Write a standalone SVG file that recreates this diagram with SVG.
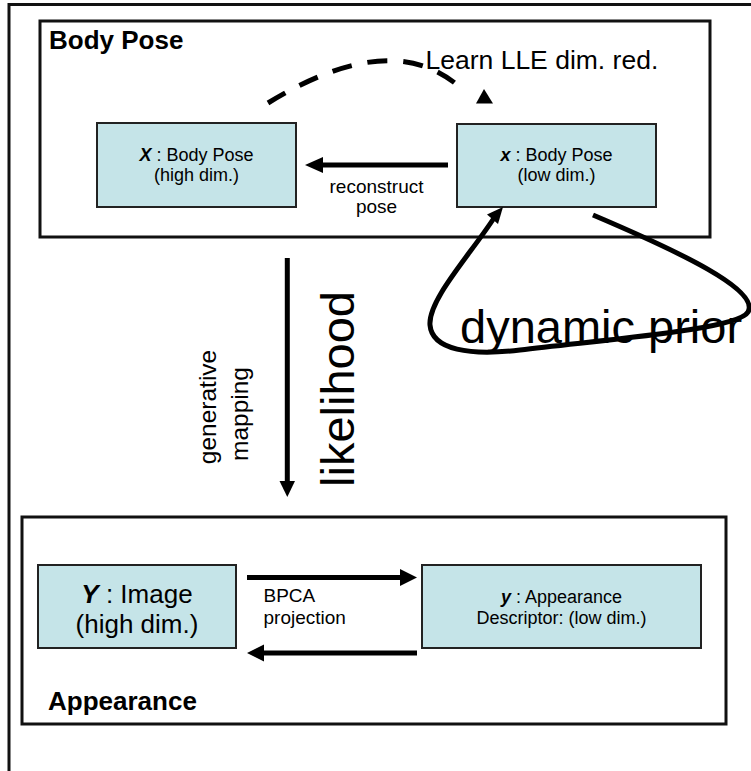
<svg xmlns="http://www.w3.org/2000/svg" width="751" height="771" viewBox="0 0 751 771">
<defs>
<style>
text{font-family:"Liberation Sans",Arial,sans-serif;fill:#000}
.frame{fill:none;stroke:#111;stroke-width:3}
.box{fill:#c5e4e8;stroke:#222;stroke-width:2}
.title{font-weight:bold;font-size:26px}
.small{font-size:18px;text-anchor:middle}
.big{font-size:26px;text-anchor:middle}
.lbl{font-size:19px}
.huge{font-size:47px}
.conn{fill:none;stroke:#000;stroke-width:5}
.head{fill:#000;stroke:none}
</style>
</defs>
<rect width="751" height="771" fill="#fff"/>
<rect id="outer" class="frame" x="9" y="4.5" width="800" height="800"/>
<g id="body-pose">
<rect class="frame" x="40" y="21" width="670" height="216"/>
<text class="title" x="49" y="49">Body Pose</text>
</g>
<g id="appearance">
<rect class="frame" x="22" y="517" width="704" height="207"/>
<text class="title" x="48" y="710">Appearance</text>
</g>
<g id="X-node">
<rect class="box" x="97" y="123" width="199" height="84"/>
<text class="small" x="196.5" y="161"><tspan font-weight="bold" font-style="italic">X</tspan> : Body Pose</text>
<text class="small" x="196.5" y="181">(high dim.)</text>
</g>
<g id="x-node">
<rect class="box" x="457" y="124" width="199" height="83"/>
<text class="small" x="556.5" y="161"><tspan font-weight="bold" font-style="italic">x</tspan> : Body Pose</text>
<text class="small" x="556.5" y="181">(low dim.)</text>
</g>
<g id="Y-node">
<rect class="box" x="38" y="565" width="198" height="83"/>
<text class="big" x="137" y="602.5"><tspan font-weight="bold" font-style="italic">Y</tspan> : Image</text>
<text class="big" x="137" y="633">(high dim.)</text>
</g>
<g id="y-node">
<rect class="box" x="422" y="565" width="279" height="83"/>
<text class="small" x="561.5" y="603"><tspan font-weight="bold" font-style="italic">y</tspan> : Appearance</text>
<text class="small" x="561.5" y="624">Descriptor: (low dim.)</text>
</g>
<g id="connectors">
<path class="conn" d="M268,103 Q394.5,25.5 463,90" stroke-dasharray="20 16"/>
<polygon class="head" points="484,89 476,103.5 493,103.5"/>
<text x="425.5" y="68.5" font-size="26.5px">Learn LLE dim. red.</text>
<line class="conn" x1="448" y1="165" x2="320" y2="165"/>
<polygon class="head" points="305,165 323,157 323,173"/>
<text class="lbl" x="376.5" y="193" text-anchor="middle">reconstruct</text>
<text class="lbl" x="376.5" y="213" text-anchor="middle">pose</text>
<path class="conn" d="M593,215 C680,252 760,290 748,312 C738,330 600,340 520,350 C470,356 432,350 430,325 C428,300 470,255 494,218" stroke-width="4.5"/>
<polygon class="head" points="503,207 498,224 487,214.5"/>
<text class="huge" x="460" y="343">dynamic prior</text>
<line class="conn" x1="287.3" y1="258" x2="287.3" y2="484" stroke-width="4.5"/>
<polygon class="head" points="287.3,497 279.5,481 295,481"/>
<text class="huge" transform="translate(354,487) rotate(-90)">likelihood</text>
<text font-size="24.5px" text-anchor="middle" transform="translate(216,407) rotate(-90)">generative</text>
<text font-size="24.5px" text-anchor="middle" transform="translate(248,414) rotate(-90)">mapping</text>
<line class="conn" x1="247" y1="577.5" x2="402" y2="577.5"/>
<polygon class="head" points="417,577.5 400,569 400,586"/>
<line class="conn" x1="417" y1="653" x2="262" y2="653"/>
<polygon class="head" points="247,653 264,644.5 264,661.5"/>
<text class="lbl" x="263.5" y="601.5">BPCA</text>
<text class="lbl" x="263.5" y="624">projection</text>
</g>
</svg>
